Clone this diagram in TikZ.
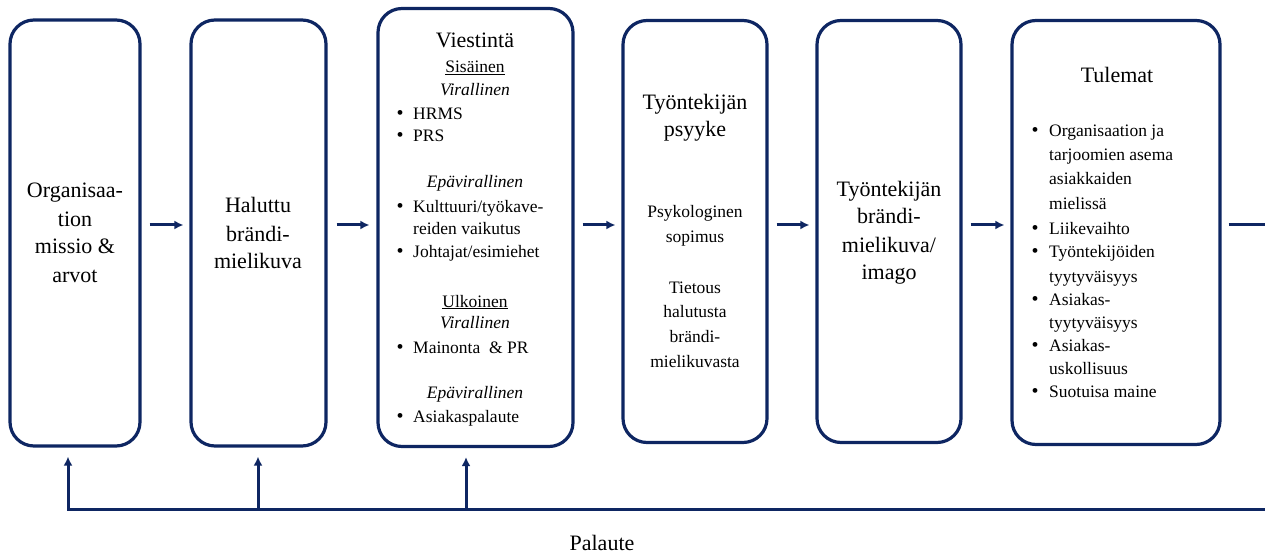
\documentclass[tikz,border=0pt]{standalone}
\usepackage{fontspec}
\setmainfont{Liberation Serif}
\usetikzlibrary{arrows.meta,calc}
\definecolor{navy}{RGB}{14,38,98}
\tikzset{
  stage/.style={draw=navy, line width=3.2pt, rounded corners=24pt, inner sep=0pt},
  flow/.style={draw=navy, line width=3pt, -{Latex[length=9pt,width=9pt]}},
  plain/.style={draw=navy, line width=3pt},
  big/.style={font=\fontsize{22}{26}\selectfont, anchor=base, inner sep=0pt},
  small/.style={font=\fontsize{17.5}{21}\selectfont, anchor=base, inner sep=0pt},
  item/.style={font=\fontsize{17.5}{21}\selectfont, anchor=base west, inner sep=0pt},
  dot/.style={font=\fontsize{20}{22}\selectfont, anchor=base, inner sep=0pt},
}
\begin{document}
\begin{tikzpicture}[x=1pt,y=-1pt]
\useasboundingbox (0,0) rectangle (1265,553);

% stages
\node[stage, minimum width=130pt, minimum height=426pt] (b1) at (75,233) {};
\node[stage, minimum width=135pt, minimum height=426pt] (b2) at (258.5,233) {};
\node[stage, minimum width=195pt, minimum height=438pt] (b3) at (475.5,227.5) {};
\node[stage, minimum width=144pt, minimum height=422pt] (b4) at (695,231.5) {};
\node[stage, minimum width=144pt, minimum height=422pt] (b5) at (889,231.5) {};
\node[stage, minimum width=208pt, minimum height=424pt] (b6) at (1116,232.5) {};

% stage 1
\node[big] (o1) at (75,198) {Organisaa-};
\node[big] (o2) at (75,226) {tion};
\node[big] (o3) at (75,254) {missio \&};
\node[big] (o4) at (75,282) {arvot};

% stage 2
\node[big] (h1) at (258,213) {Haluttu};
\node[big] (h2) at (258,241) {brändi-};
\node[big] (h3) at (258,269) {mielikuva};

% stage 3
\node[big] (v0) at (475,48) {Viestintä};
\node[small] (v1) at (475,73) {\underline{Sisäinen}};
\node[small] (v2) at (475,96) {\itshape Virallinen};
\node[dot] (vd1) at (400,120) {•};
\node[item] (v3) at (413,120) {HRMS};
\node[dot] (vd2) at (400,142) {•};
\node[item] (v4) at (413,142) {PRS};
\node[small] (v5) at (475,188) {\itshape Epävirallinen};
\node[dot] (vd3) at (400,213) {•};
\node[item] (v6) at (413,213) {Kulttuuri/työkave-};
\node[item] (v7) at (413,235) {reiden vaikutus};
\node[dot] (vd4) at (400,258) {•};
\node[item] (v8) at (413,258) {Johtajat/esimiehet};
\node[small] (v9) at (475,307) {\underline{Ulkoinen}};
\node[small] (v10) at (475,328) {\itshape Virallinen};
\node[dot] (vd5) at (400,353) {•};
\node[item] (v11) at (413,353) {Mainonta \ \& PR};
\node[small] (v12) at (475,398) {\itshape Epävirallinen};
\node[dot] (vd6) at (400,422) {•};
\node[item] (v13) at (413,422) {Asiakaspalaute};

% stage 4
\node[big] (p1) at (695,110) {Työntekijän};
\node[big] (p2) at (695,137) {psyyke};
\node[small] (p3) at (695,218) {Psykologinen};
\node[small] (p4) at (695,243) {sopimus};
\node[small] (p5) at (695,293) {Tietous};
\node[small] (p6) at (695,317) {halutusta};
\node[small] (p7) at (695,342) {brändi-};
\node[small] (p8) at (695,367) {mielikuvasta};

% stage 5
\node[big] (i1) at (889,197) {Työntekijän};
\node[big] (i2) at (889,224) {brändi-};
\node[big] (i3) at (889,252) {mielikuva/};
\node[big] (i4) at (889,279) {imago};

% stage 6
\node[big] (t0) at (1117,83) {Tulemat};
\node[dot] (td1) at (1035,137) {•};
\node[item] (t1) at (1049,137) {Organisaation ja};
\node[item] (t2) at (1049,161) {tarjoomien asema};
\node[item] (t3) at (1049,185) {asiakkaiden};
\node[item] (t4) at (1049,210) {mielissä};
\node[dot] (td2) at (1035,235) {•};
\node[item] (t5) at (1049,235) {Liikevaihto};
\node[dot] (td3) at (1035,258) {•};
\node[item] (t6) at (1049,258) {Työntekijöiden};
\node[item] (t7) at (1049,282) {tyytyväisyys};
\node[dot] (td4) at (1035,305) {•};
\node[item] (t8) at (1049,305) {Asiakas-};
\node[item] (t9) at (1049,328) {tyytyväisyys};
\node[dot] (td5) at (1035,351) {•};
\node[item] (t10) at (1049,351) {Asiakas-};
\node[item] (t11) at (1049,374) {uskollisuus};
\node[dot] (td6) at (1035,397) {•};
\node[item] (t12) at (1049,397) {Suotuisa maine};

% forward flow
\coordinate (ay) at (0,225);
\draw[flow, shorten <=8pt, shorten >=6pt] (b1.east |- ay) -- (b2.west |- ay);
\draw[flow, shorten <=9pt, shorten >=7pt] (b2.east |- ay) -- (b3.west |- ay);
\draw[flow, shorten <=8pt, shorten >=6pt] (b3.east |- ay) -- (b4.west |- ay);
\draw[flow, shorten <=8pt, shorten >=6pt] (b4.east |- ay) -- (b5.west |- ay);
\draw[flow, shorten <=8pt, shorten >=6pt] (b5.east |- ay) -- (b6.west |- ay);

% feedback loop
\coordinate (out) at (1265,225);
\coordinate (fbr) at (1265,509.5);
\coordinate (f1) at (68,509.5);
\coordinate (f2) at (258,509.5);
\coordinate (f3) at (466,509.5);
\draw[plain, shorten <=7pt] (b6.east |- ay) -- (out);
\draw[plain, line cap=rect] (fbr) -- (f1);
\draw[flow, shorten >=9pt] (f1) -- (f1 |- b1.south);
\draw[flow, shorten >=9pt] (f2) -- (f2 |- b2.south);
\draw[flow, shorten >=9pt] (f3) -- (f3 |- b3.south);
\node[big] (fb) at (602,550) {Palaute};
\end{tikzpicture}
\end{document}
